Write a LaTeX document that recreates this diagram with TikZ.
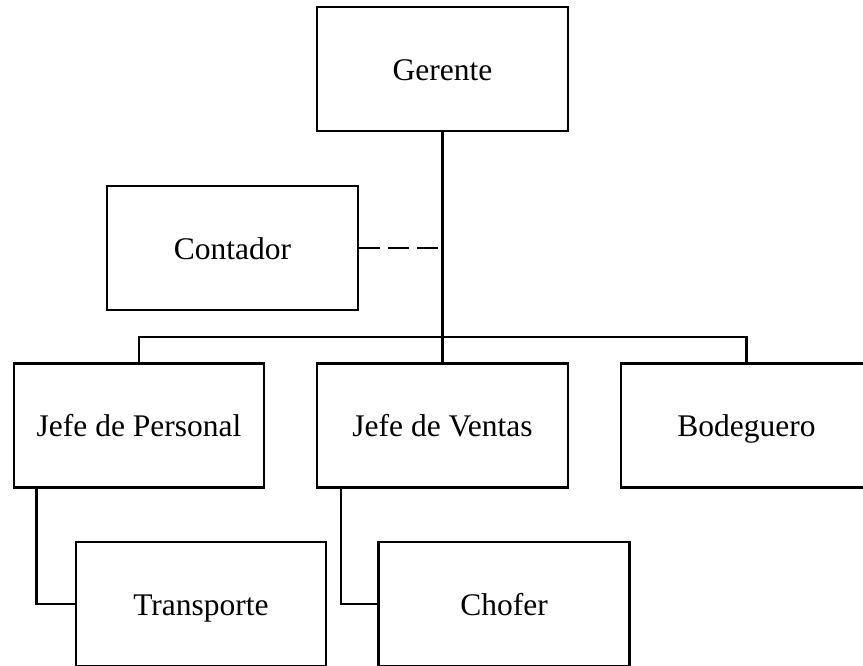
\documentclass[tikz,border=0pt]{standalone}
\usepackage{fontspec}
\setmainfont{Liberation Serif}
\usetikzlibrary{calc}
\begin{document}
\begin{tikzpicture}[x=1pt,y=-1pt,
  box/.style={draw,line width=2.3pt,minimum width=251pt,minimum height=124pt,inner sep=0pt,
    text height=29pt,text depth=7pt,font=\fontsize{31.5}{36}\selectfont},
  conn/.style={line width=2.3pt},
  trunk/.style={line width=2.8pt}]
\useasboundingbox (0,0) rectangle (863,665);
\fill[white] (0,0) rectangle (863,665);
\node[box] (ger) at (442.5,69) {Gerente};
\node[box] (con) at (232.5,248) {Contador};
\node[box,minimum width=250pt] (jp) at (139,425.5) {Jefe de Personal};
\node[box] (jv) at (442.5,425.5) {Jefe de Ventas};
\node[box] (bod) at (746.5,425.5) {Bodeguero};
\node[box,minimum width=250pt] (tra) at (201,604) {Transporte};
\node[box] (cho) at (504,604) {Chofer};
\coordinate (bus) at (442.5,337);
\draw[trunk] (ger.south) -- (jv.north);
\draw[conn,dash pattern=on 21pt off 8pt] (con.east) -- (con.east -| ger.south);
\draw[conn] (jp.north) |- (bus) -| (bod.north);
\draw[conn] ($(jp.south west)+(23.5,0)$) |- (tra.west);
\draw[conn] ($(jv.south west)+(25,0)$) |- (cho.west);
\end{tikzpicture}
\end{document}
